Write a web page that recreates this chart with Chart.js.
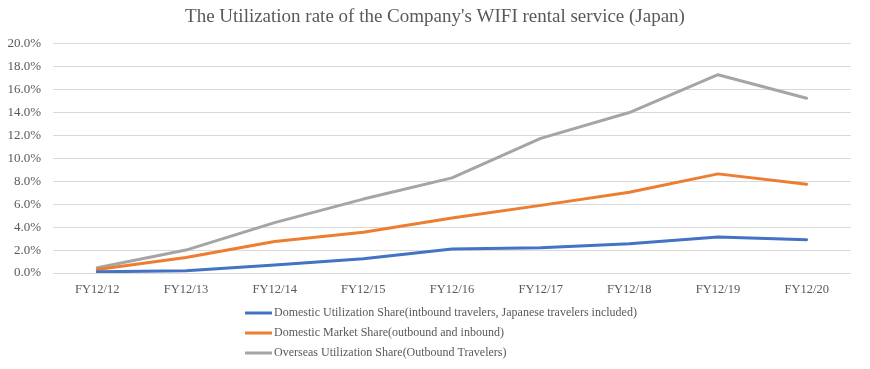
<!DOCTYPE html>
<html>
<head>
<meta charset="utf-8">
<script src="https://cdn.jsdelivr.net/npm/chart.js@4/dist/chart.umd.min.js"></script>
<style>
  html, body { margin: 0; padding: 0; background: #ffffff; }
  #wrap { width: 870px; height: 369px; }
</style>
</head>
<body>
<div id="wrap"><canvas id="c" width="870" height="369"></canvas></div>
<script>
const titleText = "The Utilization rate of the Company's WIFI rental service (Japan)";
const categories = ["FY12/12", "FY12/13", "FY12/14", "FY12/15", "FY12/16", "FY12/17", "FY12/18", "FY12/19", "FY12/20"];
const seriesNames = [
  "Domestic Utilization Share(intbound travelers, Japanese travelers included)",
  "Domestic Market Share(outbound and inbound)",
  "Overseas Utilization Share(Outbound Travelers)"
];
const domesticUtilization = [0.1, 0.2, 0.7, 1.25, 2.1, 2.2, 2.55, 3.15, 2.9];
const domesticMarket = [0.3, 1.35, 2.75, 3.55, 4.8, 5.9, 7.05, 8.65, 7.75];
const overseasUtilization = [0.45, 2.0, 4.4, 6.45, 8.3, 11.75, 14.0, 17.3, 15.25];
const seriesColors = ["#4472C4", "#ED7D31", "#A5A5A5"];
const yMin = 0, yMax = 20, yStep = 2;

const FONT = "'Liberation Serif', 'Times New Roman', serif";
const TEXT = "#595959";

const centerTitlePlugin = {
  id: 'centerTitle',
  afterLayout(chart) {
    if (chart.titleBlock) {
      chart.titleBlock.left = 0;
      chart.titleBlock.right = chart.width;
      chart.titleBlock.width = chart.width;
    }
  }
};

const legendPlugin = {
  id: 'verticalLegend',
  afterDraw(chart) {
    const ctx = chart.ctx;
    const datasets = chart.data.datasets;
    ctx.save();
    ctx.font = "12px " + FONT;
    ctx.textBaseline = 'middle';
    ctx.textAlign = 'left';
    const lineLen = 27, gap = 2, rowH = 20;
    let maxW = 0;
    datasets.forEach(d => { maxW = Math.max(maxW, ctx.measureText(d.label).width); });
    const blockW = lineLen + gap + maxW;
    const left = Math.round(441 - blockW / 2);
    const top = chart.scales.x.bottom + 17;
    datasets.forEach((d, i) => {
      const y = top + i * rowH;
      ctx.strokeStyle = d.borderColor;
      ctx.lineWidth = 3;
      ctx.lineCap = 'butt';
      ctx.beginPath();
      ctx.moveTo(left, y);
      ctx.lineTo(left + lineLen, y);
      ctx.stroke();
      ctx.fillStyle = TEXT;
      ctx.fillText(d.label, left + lineLen + gap, y);
    });
    ctx.restore();
  }
};

const values = [domesticUtilization, domesticMarket, overseasUtilization];

new Chart(document.getElementById('c'), {
  type: 'line',
  data: {
    labels: categories,
    datasets: values.map((v, i) => ({
      label: seriesNames[i],
      data: v,
      borderColor: seriesColors[i],
      backgroundColor: seriesColors[i],
      borderWidth: 3,
      pointRadius: 0,
      pointHoverRadius: 0,
      tension: 0,
      fill: false,
      borderJoinStyle: 'round',
      borderCapStyle: 'round'
    }))
  },
  options: {
    responsive: false,
    animation: false,
    devicePixelRatio: 1,
    layout: { padding: { left: 7, right: 19, top: 0, bottom: 73 } },
    plugins: {
      legend: { display: false },
      tooltip: { enabled: false },
      title: {
        display: true,
        text: titleText,
        color: TEXT,
        font: { family: FONT, size: 19, weight: 'normal' },
        padding: { top: 6, bottom: 15 }
      }
    },
    scales: {
      x: {
        offset: true,
        grid: { display: false, drawTicks: false },
        border: { display: false },
        ticks: { color: TEXT, font: { family: FONT, size: 12.5 }, padding: 9, maxRotation: 0 },
        afterFit(scale) { scale.height = 23; }
      },
      y: {
        min: yMin,
        max: yMax,
        grid: { color: '#D9D9D9', lineWidth: 1, drawTicks: false },
        border: { display: false },
        ticks: {
          stepSize: yStep,
          color: TEXT,
          font: { family: FONT, size: 13 },
          padding: 12,
          callback: v => v.toFixed(1) + '%'
        },
        afterFit(scale) { scale.width = 46; }
      }
    }
  },
  plugins: [centerTitlePlugin, legendPlugin]
});
</script>
</body>
</html>
